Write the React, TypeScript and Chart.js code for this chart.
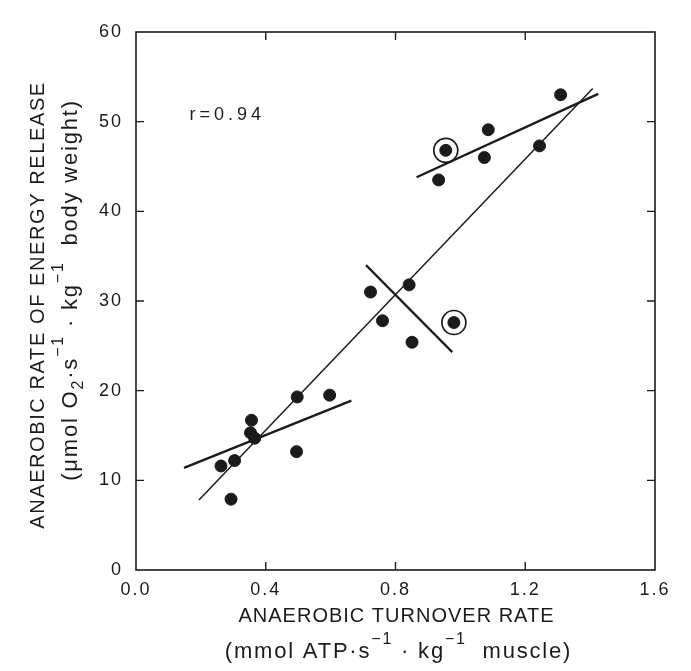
import React, { useEffect, useRef } from "react";
import { Chart, registerables } from "chart.js";

Chart.register(...registerables);

// ---- data ----
const xMin = 0;
const xMax = 1.6;
const xStep = 0.4;
const yMin = 0;
const yMax = 60;
const yStep = 10;

const pointX = [0.262, 0.304, 0.293, 0.356, 0.353, 0.366, 0.497, 0.495, 0.597, 0.723, 0.76, 0.842, 0.851, 0.98, 0.933, 0.955, 1.074, 1.086, 1.244, 1.309];
const pointY = [11.6, 12.2, 7.9, 16.7, 15.3, 14.7, 19.3, 13.2, 19.5, 31.0, 27.8, 31.8, 25.4, 27.6, 43.5, 46.8, 46.0, 49.1, 47.3, 53.0];

const circledX = [0.98, 0.955];
const circledY = [27.6, 46.8];

const mainLineX = [0.194, 1.408];
const mainLineY = [7.8, 53.7];
const lowLineX = [0.148, 0.664];
const lowLineY = [11.4, 18.9];
const midLineX = [0.709, 0.975];
const midLineY = [34.0, 24.3];
const highLineX = [0.865, 1.425];
const highLineY = [43.8, 53.1];

const rLabel = "r=0.94";
const rLabelX = 0.165;
const rLabelY = 50.7;

const xTitle1 = "ANAEROBIC TURNOVER RATE";
const yTitle1 = "ANAEROBIC RATE OF ENERGY RELEASE";

const INK = "#1b1b1b";
const FONT = '"Liberation Sans", Arial, Helvetica, sans-serif';

type Seg = { t: string; k?: "sup" | "sub" };

const xTitle2: Seg[] = [
  { t: "(mmol ATP·s" },
  { t: "−1", k: "sup" },
  { t: " · kg" },
  { t: "−1", k: "sup" },
  { t: "  muscle)" },
];
const yTitle2: Seg[] = [
  { t: "(μmol O" },
  { t: "2", k: "sub" },
  { t: "·s" },
  { t: "−1", k: "sup" },
  { t: " · kg" },
  { t: "−1", k: "sup" },
  { t: "  body weight)" },
];

const pts = (xs: number[], ys: number[]) => xs.map((x, i) => ({ x, y: ys[i] }));

function drawRich(ctx: CanvasRenderingContext2D, segs: Seg[], size: number, ls: number, cx: number, baseline: number) {
  const small = Math.round(size * 0.72);
  const widths = segs.map((s) => {
    ctx.font = `${s.k ? small : size}px ${FONT}`;
    ctx.letterSpacing = `${ls}px`;
    return ctx.measureText(s.t).width;
  });
  const total = widths.reduce((a, b) => a + b, 0);
  let x = cx - total / 2;
  ctx.textAlign = "left";
  ctx.textBaseline = "alphabetic";
  segs.forEach((s, i) => {
    ctx.font = `${s.k ? small : size}px ${FONT}`;
    ctx.letterSpacing = `${ls}px`;
    let y = baseline;
    if (s.k === "sup") y = baseline - size * 0.62;
    if (s.k === "sub") y = baseline + size * 0.28;
    ctx.fillText(s.t, x, y);
    x += widths[i];
  });
}

const framePlugin = {
  id: "frameTicks",
  beforeDraw(chart: any) {
    chart.ctx.letterSpacing = "2px";
  },
  afterDatasetsDraw(chart: any) {
    const { ctx, chartArea: a, scales } = chart;
    const xs = scales.x;
    const ys = scales.y;
    ctx.save();
    ctx.strokeStyle = INK;
    ctx.lineWidth = 1.6;
    ctx.strokeRect(a.left, a.top, a.right - a.left, a.bottom - a.top);
    const len = 8;
    ctx.lineWidth = 1.4;
    ctx.beginPath();
    xs.ticks.forEach((t: any) => {
      if (t.value <= xMin || t.value >= xMax) return;
      const px = xs.getPixelForValue(t.value);
      ctx.moveTo(px, a.bottom);
      ctx.lineTo(px, a.bottom - len);
      ctx.moveTo(px, a.top);
      ctx.lineTo(px, a.top + len);
    });
    ys.ticks.forEach((t: any) => {
      if (t.value <= yMin || t.value >= yMax) return;
      const py = ys.getPixelForValue(t.value);
      ctx.moveTo(a.left, py);
      ctx.lineTo(a.left + len, py);
      ctx.moveTo(a.right, py);
      ctx.lineTo(a.right - len, py);
    });
    ctx.stroke();

    // r label
    ctx.fillStyle = INK;
    ctx.font = `18px ${FONT}`;
    ctx.letterSpacing = "4px";
    ctx.textAlign = "left";
    ctx.textBaseline = "middle";
    ctx.fillText(rLabel, xs.getPixelForValue(rLabelX), ys.getPixelForValue(rLabelY));
    ctx.restore();
  },
  afterDraw(chart: any) {
    const { ctx, chartArea: a } = chart;
    ctx.save();
    ctx.fillStyle = INK;
    const cx = (a.left + a.right) / 2;
    // x titles
    drawRich(ctx, [{ t: xTitle1 }], 20, 1, cx + 1, 622);
    drawRich(ctx, xTitle2, 22, 1.8, cx + 3, 658);
    // y titles
    const cy = (a.top + a.bottom) / 2;
    ctx.save();
    ctx.translate(44, cy + 4);
    ctx.rotate(-Math.PI / 2);
    drawRich(ctx, [{ t: yTitle1 }], 20, 1.6, 0, 0);
    ctx.restore();
    ctx.save();
    ctx.translate(77, cy - 11);
    ctx.rotate(-Math.PI / 2);
    drawRich(ctx, yTitle2, 22, 1.8, 0, 0);
    ctx.restore();
    ctx.restore();
  },
};

export default function App() {
  const ref = useRef<HTMLCanvasElement | null>(null);
  useEffect(() => {
    document.body.style.margin = "0";
    document.body.style.background = "#ffffff";
    const canvas = ref.current!;
    const lineDs = (xs: number[], ys: number[], w: number) => ({
      type: "scatter" as const,
      data: pts(xs, ys),
      showLine: true,
      borderColor: INK,
      borderWidth: w,
      pointRadius: 0,
      pointHoverRadius: 0,
      fill: false,
      order: 2,
    });
    const chart = new Chart(canvas, {
      type: "scatter",
      data: {
        datasets: [
          {
            data: pts(pointX, pointY),
            backgroundColor: INK,
            borderColor: INK,
            borderWidth: 1,
            pointRadius: 6,
            order: 0,
          },
          {
            data: pts(circledX, circledY),
            backgroundColor: "rgba(0,0,0,0)",
            borderColor: INK,
            borderWidth: 1.7,
            pointRadius: 12,
            order: 0,
          },
          lineDs(mainLineX, mainLineY, 1.5),
          lineDs(lowLineX, lowLineY, 2.4),
          lineDs(midLineX, midLineY, 2.2),
          lineDs(highLineX, highLineY, 2.4),
        ] as any,
      },
      options: {
        animation: false,
        responsive: false,
        maintainAspectRatio: false,
        events: [],
        layout: { padding: { left: 0, top: 32, right: 36, bottom: 0 } },
        plugins: {
          legend: { display: false },
          tooltip: { enabled: false },
          title: { display: false },
        },
        scales: {
          x: {
            type: "linear",
            min: xMin,
            max: xMax,
            grid: { display: false, drawTicks: false },
            border: { display: false },
            ticks: {
              stepSize: xStep,
              color: INK,
              font: { family: FONT, size: 18 },
              padding: 9,
              maxRotation: 0,
              autoSkip: false,
              callback: (v: any) => Number(v).toFixed(1),
            },
            afterFit: (s: any) => {
              s.height = 101;
            },
          },
          y: {
            type: "linear",
            min: yMin,
            max: yMax,
            grid: { display: false, drawTicks: false },
            border: { display: false },
            ticks: {
              stepSize: yStep,
              color: INK,
              font: { family: FONT, size: 18 },
              padding: 13,
              autoSkip: false,
              callback: (v: any) => String(v),
            },
            afterFit: (s: any) => {
              s.width = 136;
            },
          },
        },
      },
      plugins: [framePlugin],
    });
    return () => chart.destroy();
  }, []);
  return (
    <div style={{ width: 691, height: 671, background: "#fff" }}>
      <canvas ref={ref} width={691} height={671} style={{ display: "block" }} />
    </div>
  );
}
